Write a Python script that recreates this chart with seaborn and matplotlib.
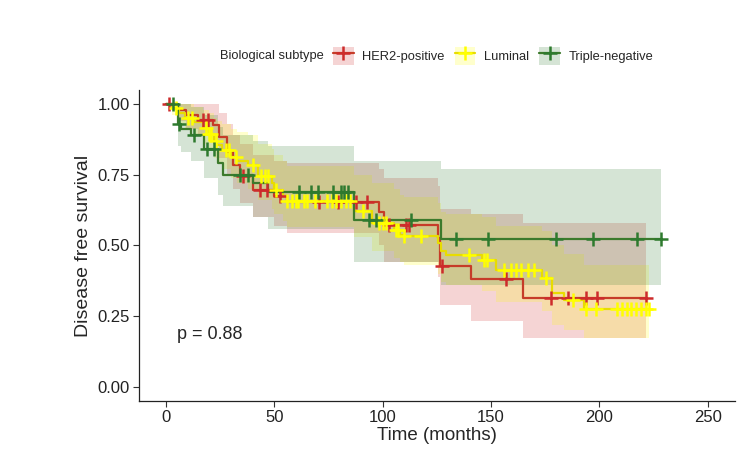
import matplotlib
matplotlib.use("Agg")
import matplotlib.pyplot as plt
from matplotlib.lines import Line2D
from matplotlib.patches import Patch
import pandas as pd
import seaborn as sns
import numpy as np

sns.set_style("ticks")
plt.rcParams["font.family"] = ["Liberation Sans", "DejaVu Sans"]

groups = ["HER2-positive", "Luminal", "Triple-negative"]
colors = {"HER2-positive": "#CD2B2B", "Luminal": "#FFFF00", "Triple-negative": "#2E7A2E"}
linecolors = {"HER2-positive": "#C63C28", "Luminal": "#E8DC00", "Triple-negative": "#3C7A2C"}

# HER2-positive: step times, survival, CI
her2_t = [0, 5.5, 9.3, 14.7, 21.6, 24.7, 28, 31, 34, 40, 50, 56, 98.4, 100.5, 125.5, 126.5, 140.7, 164.5]
her2_s = [1.0, 0.979, 0.961, 0.945, 0.926, 0.885, 0.83, 0.785, 0.745, 0.697, 0.675, 0.653, 0.62, 0.573, 0.526, 0.427, 0.38, 0.315]
her2_lo = [1.0, 0.94, 0.91, 0.89, 0.86, 0.81, 0.75, 0.70, 0.65, 0.60, 0.57, 0.545, 0.50, 0.44, 0.39, 0.29, 0.233, 0.174]
her2_hi = [1.0, 1.0, 1.0, 1.0, 1.0, 0.97, 0.93, 0.89, 0.86, 0.82, 0.80, 0.79, 0.77, 0.74, 0.71, 0.63, 0.61, 0.58]
her2_end = 221.4
her2_cens = [1.6, 17, 19.3, 35.6, 43.6, 46.7, 52.8, 70.8, 79.3, 87.8, 93, 103, 110.7, 112.3,
             127.3, 156.8, 177.6, 185.3, 193.7, 199, 221.4]

# Luminal
lum_t = [0, 3, 6, 9, 13, 17, 20, 22, 23.5, 26, 30, 33, 38, 42.5, 49, 50, 54, 56, 87, 95.3,
         105.3, 108, 110, 125.3, 127, 129.2, 146, 152.2, 173.7, 178.3, 183.7, 193]
lum_s = [1.0, 0.985, 0.967, 0.95, 0.935, 0.915, 0.895, 0.87, 0.855, 0.838, 0.814, 0.80, 0.785, 0.744,
         0.72, 0.697, 0.675, 0.656, 0.622, 0.58, 0.555, 0.538, 0.532, 0.509, 0.479, 0.468, 0.45,
         0.415, 0.386, 0.333, 0.309, 0.276]
lum_lo = [1.0, 0.96, 0.93, 0.91, 0.89, 0.86, 0.84, 0.81, 0.79, 0.77, 0.74, 0.72, 0.70, 0.66, 0.63,
          0.61, 0.585, 0.565, 0.53, 0.48, 0.455, 0.44, 0.43, 0.40, 0.37, 0.36, 0.34, 0.30, 0.27,
          0.22, 0.20, 0.174]
lum_hi = [1.0, 1.0, 1.0, 1.0, 0.99, 0.98, 0.97, 0.95, 0.94, 0.93, 0.91, 0.90, 0.89, 0.86, 0.84,
          0.82, 0.80, 0.78, 0.75, 0.72, 0.70, 0.68, 0.67, 0.65, 0.62, 0.61, 0.60, 0.57, 0.55,
          0.50, 0.47, 0.43]
lum_end = 222.9
lum_cens = [4.7, 10, 12, 18.5, 20, 21, 23, 27.7, 29.3, 32.3, 40, 43.9, 45.5, 47, 50.8, 56, 58, 60,
            61, 63.5, 65, 69, 74.5, 76.5, 78.6, 81, 83, 85, 90.7, 98.4, 100, 101.5, 106, 107, 110,
            117.6, 139.9, 146.8, 148.3, 156.1, 159.2, 161.5, 163.8, 166.8, 169.9, 175.3, 188,
            193.7, 198.3, 208.3, 210.6, 212.9, 214.5, 216.8, 219.1, 221.4, 222.9]

# Triple-negative
tn_t = [0, 5.5, 7, 11.6, 17.7, 23.9, 26.2, 40, 47, 86.9, 126.9]
tn_s = [1.0, 0.93, 0.913, 0.89, 0.84, 0.79, 0.75, 0.72, 0.688, 0.59, 0.523]
tn_lo = [1.0, 0.85, 0.83, 0.80, 0.74, 0.68, 0.64, 0.60, 0.56, 0.44, 0.36]
tn_hi = [1.0, 1.0, 1.0, 0.99, 0.96, 0.92, 0.89, 0.87, 0.85, 0.80, 0.77]
tn_end = 228.3
tn_cens = [3.5, 6, 13, 19, 22, 34, 38, 61.5, 67, 70, 77, 80.8, 82.3, 83.8, 93.8, 96.9, 113,
           133.8, 148.4, 179.9, 196.8, 217.5, 228.3]

pval_text = "p = 0.88"

series = {
    "HER2-positive": (her2_t, her2_s, her2_lo, her2_hi, her2_end, her2_cens),
    "Luminal": (lum_t, lum_s, lum_lo, lum_hi, lum_end, lum_cens),
    "Triple-negative": (tn_t, tn_s, tn_lo, tn_hi, tn_end, tn_cens),
}

curves = []
marks = []
for g in groups:
    t, s, lo, hi, tend, cens = series[g]
    curves.append(pd.DataFrame({"time": list(t) + [tend], "surv": list(s) + [s[-1]],
                                "lower": list(lo) + [lo[-1]], "upper": list(hi) + [hi[-1]],
                                "group": g}))
    # survival at each censoring time from the step curve
    idx = np.searchsorted(np.array(t), np.array(cens), side="right") - 1
    marks.append(pd.DataFrame({"time": cens, "surv": np.array(s)[idx], "group": g}))
curves = pd.concat(curves, ignore_index=True)
marks = pd.concat(marks, ignore_index=True)

fig = plt.figure(figsize=(7.5, 4.73), dpi=100)
ax = fig.add_axes([0.185, 0.152, 0.795, 0.658])

for g in groups:
    d = curves[curves["group"] == g]
    ax.fill_between(d["time"], d["lower"], d["upper"], step="post",
                    color=colors[g], alpha=0.2, linewidth=0)

sns.lineplot(data=curves, x="time", y="surv", hue="group", palette=linecolors,
             drawstyle="steps-post", estimator=None, sort=False, linewidth=1.6,
             legend=False, ax=ax)

for g in groups:
    d = marks[marks["group"] == g]
    ax.plot(d["time"], d["surv"], linestyle="none", marker="+", markersize=10,
            markeredgewidth=1.8, color=colors[g])

ax.text(5, 0.185, pval_text, fontsize=13, ha="left", va="center")

ax.set_xlim(-12.5, 262.5)
ax.set_ylim(-0.05, 1.05)
ax.set_xticks([0, 50, 100, 150, 200, 250])
ax.set_yticks([0, 0.25, 0.5, 0.75, 1.0])
ax.set_yticklabels(["0.00", "0.25", "0.50", "0.75", "1.00"])
ax.tick_params(labelsize=12, length=4, width=0.8, pad=2.5, color="#333333", labelcolor="#222222")
ax.set_xlabel("Time (months)", fontsize=13.5, labelpad=1)
ax.set_ylabel("Disease free survival", fontsize=14, labelpad=4)
sns.despine(ax=ax)
for sp in ["left", "bottom"]:
    ax.spines[sp].set_linewidth(0.9)
    ax.spines[sp].set_color("#222222")

handles = []
for g in groups:
    handles.append((Patch(facecolor=colors[g], alpha=0.2, edgecolor="none"),
                    Line2D([], [], color=linecolors[g], linewidth=1.6, marker="+",
                           markersize=10, markeredgewidth=1.8,
                           markeredgecolor=colors[g])))
fig.text(220 / 750, 1 - 55.7 / 473, "Biological subtype", fontsize=9.3, ha="left", va="center")
fig.legend(handles, groups, loc="center left", bbox_to_anchor=(333 / 750, 1 - 55.7 / 473),
           ncol=3, frameon=False, fontsize=9.3, handlelength=1.6, handleheight=1.8,
           handletextpad=0.65, columnspacing=0.8, borderpad=0, borderaxespad=0)

fig.savefig("out.png", dpi=100)
